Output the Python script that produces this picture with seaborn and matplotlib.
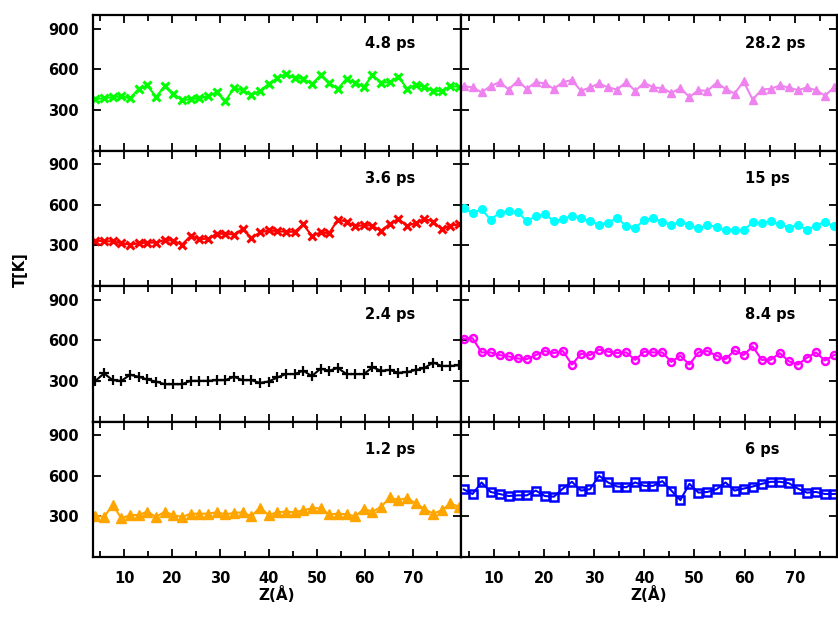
import numpy as np
import pandas as pd
import matplotlib
matplotlib.use("Agg")
import matplotlib.pyplot as plt
import seaborn as sns
from matplotlib.ticker import MultipleLocator, FixedLocator

sns.set_style("ticks")
plt.rcParams["font.family"] = ["DejaVu Sans"]
plt.rcParams["font.weight"] = "bold"
plt.rcParams["text.color"] = "black"
plt.rcParams["axes.labelcolor"] = "black"
plt.rcParams["xtick.color"] = "black"
plt.rcParams["ytick.color"] = "black"

# Z positions (Angstrom)
z = [4 + 1.8 * i for i in range(43)]

T_4_8 = [380, 385, 395, 400, 385, 455, 480, 395, 475, 420, 370, 380, 385, 400, 430,
         365, 460, 445, 410, 440, 490, 535, 565, 535, 530, 490, 555, 500, 455, 530,
         500, 470, 555, 500, 505, 545, 455, 485, 470, 440, 440, 475, 470]
T_3_6 = [335, 330, 330, 315, 305, 315, 320, 320, 340, 335, 305, 370, 345, 350, 385,
         385, 380, 420, 355, 395, 410, 405, 400, 400, 455, 370, 395, 390, 490, 475,
         440, 450, 445, 405, 460, 495, 445, 465, 495, 475, 420, 445, 455]
T_2_4 = [300, 355, 305, 300, 345, 330, 310, 295, 275, 275, 275, 300, 300, 300, 305,
         305, 330, 305, 305, 285, 295, 325, 350, 350, 375, 335, 390, 375, 395, 350,
         350, 350, 400, 375, 380, 360, 365, 380, 395, 435, 410, 410, 415]
T_1_2 = [305, 295, 385, 285, 310, 310, 335, 295, 335, 310, 295, 320, 320, 320, 330,
         315, 325, 330, 300, 365, 310, 330, 335, 330, 345, 360, 360, 315, 320, 315,
         300, 355, 335, 370, 440, 420, 435, 395, 355, 320, 345, 395, 370]
T_28_2 = [475, 465, 430, 475, 505, 450, 515, 455, 505, 495, 455, 505, 520, 440, 465,
          495, 465, 450, 505, 440, 500, 465, 460, 425, 460, 395, 445, 440, 500, 455,
          420, 510, 375, 450, 455, 480, 465, 445, 465, 445, 405, 465, 450]
T_15 = [575, 540, 565, 490, 540, 555, 545, 480, 515, 530, 480, 495, 515, 500, 480,
        450, 465, 505, 440, 425, 490, 500, 475, 450, 470, 450, 425, 450, 435, 415,
        415, 410, 470, 465, 480, 455, 430, 450, 415, 445, 475, 440, 445]
T_8_4 = [610, 615, 510, 510, 490, 480, 465, 460, 490, 520, 505, 520, 420, 500, 490,
         530, 515, 505, 510, 455, 515, 510, 510, 440, 485, 420, 510, 520, 485, 460,
         525, 490, 555, 455, 455, 505, 445, 420, 470, 510, 450, 490, 490]
T_6 = [500, 465, 550, 480, 465, 450, 455, 455, 490, 450, 445, 505, 555, 490, 500,
       600, 550, 520, 515, 550, 525, 525, 560, 490, 420, 540, 475, 480, 500, 550,
       490, 505, 520, 540, 555, 555, 545, 505, 475, 480, 465, 465, 470]

labels_left = ["4.8 ps", "3.6 ps", "2.4 ps", "1.2 ps"]
labels_right = ["28.2 ps", "15 ps", "8.4 ps", "6 ps"]
series_left = [T_4_8, T_3_6, T_2_4, T_1_2]
series_right = [T_28_2, T_15, T_8_4, T_6]
x_ticks = [10, 20, 30, 40, 50, 60, 70]
y_ticks = [300, 600, 900]

styles_left = [
    dict(color="#00ff00", marker="x", markersize=5.5, markeredgewidth=2.2, markerfacecolor="#00ff00"),
    dict(color="#ff0000", marker="x", markersize=5.5, markeredgewidth=2.2, markerfacecolor="#ff0000"),
    dict(color="#000000", marker="+", markersize=6.5, markeredgewidth=1.6, markerfacecolor="#000000"),
    dict(color="#ffa500", marker="^", markersize=6.5, markeredgewidth=1.0, markerfacecolor="#ffa500"),
]
styles_right = [
    dict(color="#ee82ee", marker="^", markersize=5.5, markeredgewidth=1.0, markerfacecolor="#ee82ee"),
    dict(color="#00ffff", marker="o", markersize=5.5, markeredgewidth=1.0, markerfacecolor="#00ffff"),
    dict(color="#ff00ff", marker="o", markersize=5.0, markeredgewidth=1.8, markerfacecolor="none"),
    dict(color="#0000ff", marker="s", markersize=6.0, markeredgewidth=1.8, markerfacecolor="none"),
]

W, H = 838, 618
fig = plt.figure(figsize=(W / 100, H / 100), dpi=100)

top_px, bot_px = 15, 557
row_h = (bot_px - top_px) / 4
cols = [(93, 461, (3.5, 80)), (461, 837, (3.5, 78.4))]

for c, (x0, x1, xl) in enumerate(cols):
    for r in range(4):
        yb = top_px + (r + 1) * row_h
        ax = fig.add_axes([x0 / W, 1 - yb / H, (x1 - x0) / W, row_h / H])
        ys = series_left[r] if c == 0 else series_right[r]
        st = styles_left[r] if c == 0 else styles_right[r]
        df = pd.DataFrame({"z": z, "T": ys})
        sns.lineplot(data=df, x="z", y="T", ax=ax, color=st["color"], marker=st["marker"],
                     markersize=st["markersize"], markeredgewidth=st["markeredgewidth"],
                     markeredgecolor=st["color"], markerfacecolor=st["markerfacecolor"],
                     linewidth=1.5)
        ax.set_xlim(*xl)
        ax.set_ylim(0, 1000)
        ax.xaxis.set_major_locator(FixedLocator(x_ticks))
        ax.xaxis.set_minor_locator(MultipleLocator(5))
        ax.yaxis.set_major_locator(FixedLocator(y_ticks))
        ax.tick_params(which="both", direction="in", top=True, right=True, width=1.3, color="black")
        ax.tick_params(which="major", length=6)
        ax.tick_params(which="minor", length=4)
        for s in ax.spines.values():
            s.set_linewidth(1.6)
            s.set_color("black")
        ax.set_xlabel("")
        ax.set_ylabel("")
        if c == 1:
            ax.set_yticklabels([])
        else:
            ax.set_yticklabels([str(v) for v in y_ticks], fontsize=10.5, fontweight="bold")
        if r < 3:
            ax.set_xticklabels([])
        else:
            ax.set_xticklabels([str(v) for v in x_ticks], fontsize=10.5, fontweight="bold")
            ax.set_xlabel("Z(Å)", fontsize=11, fontweight="bold", labelpad=0)
        ax.tick_params(axis="x", pad=10)
        ax.tick_params(axis="y", pad=10)
        lab = labels_left[r] if c == 0 else labels_right[r]
        ax.text(60, 790, lab, fontsize=10.5, fontweight="bold", ha="left", va="center")

fig.text(20 / W, 1 - 270 / H, "T[K]", rotation=90, fontsize=10.5, fontweight="bold",
         ha="center", va="center")

fig.savefig("out.png", dpi=100)
